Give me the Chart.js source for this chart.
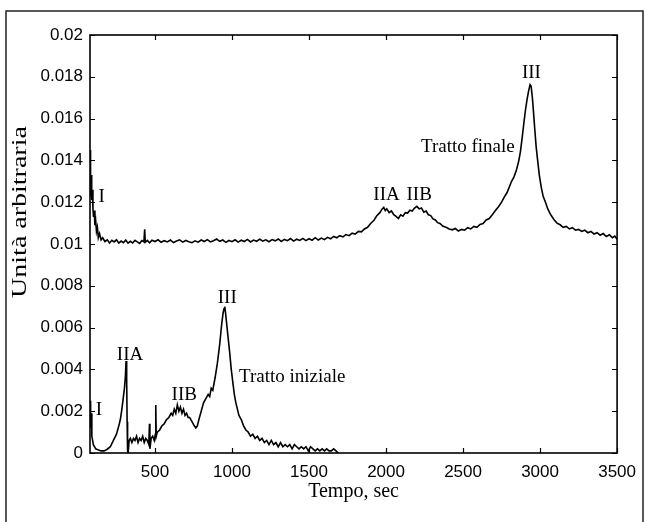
<!DOCTYPE html>
<html><head><meta charset="utf-8">
<script src="https://cdn.jsdelivr.net/npm/chart.js@4/dist/chart.umd.min.js"></script>
<style>html,body{margin:0;padding:0;background:#fff;overflow:hidden}canvas{display:block}</style>
</head><body>
<canvas id="c" width="645" height="522"></canvas>
<script>
// ---- tick labels ----
const xTicks = [500, 1000, 1500, 2000, 2500, 3000, 3500];
const yTicks = [0, 0.002, 0.004, 0.006, 0.008, 0.01, 0.012, 0.014, 0.016, 0.018, 0.02];

// ---- series: "Tratto iniziale" ----
const initTime = [78,82,86,90,100,115,130,150,170,190,210,230,250,265,275,285,295,303,308,312,316,319,322,326,332,340,350,360,370,380,390,400,410,420,430,440,450,460,464,467,475,485,495,502,505,508,515,530,545,560,575,590,605,615,625,635,645,655,665,675,685,695,705,715,725,740,755,765,775,785,800,815,830,845,855,865,875,890,905,920,932,942,948,953,958,965,975,985,995,1005,1015,1025,1035,1045,1060,1075,1090,1105,1120,1135,1150,1165,1180,1195,1210,1225,1240,1255,1270,1285,1300,1315,1330,1345,1360,1375,1390,1405,1420,1435,1450,1465,1480,1495,1510,1525,1540,1555,1570,1585,1600,1615,1630,1645,1660,1675,1690];
const initValue = [0.0025,0.0012,0.0019,0.0008,0.0004,0.0002,0.00015,0.0001,0.0001,0.00018,0.0003,0.0006,0.0009,0.0013,0.0016,0.0021,0.0027,0.0032,0.0037,0.0044,0.0036,0.0015,0.0001,0.0,0.0006,0.0007,0.0005,0.0007,0.0006,0.0008,0.0005,0.0007,0.0006,0.0008,0.0005,0.0007,0.0006,0.0004,0.0014,0.0002,0.0007,0.0008,0.0006,0.0009,0.0023,0.0008,0.0010,0.0011,0.0013,0.0014,0.0016,0.0017,0.0019,0.0018,0.0021,0.0019,0.0023,0.0020,0.0022,0.0019,0.0021,0.0018,0.0019,0.0017,0.0017,0.0015,0.0013,0.0012,0.0013,0.0016,0.0020,0.0024,0.0026,0.0028,0.0027,0.0031,0.0030,0.0036,0.0043,0.0052,0.0061,0.0067,0.0069,0.0070,0.0067,0.0062,0.0055,0.0048,0.0040,0.0034,0.0028,0.0024,0.0021,0.0018,0.0016,0.0013,0.0011,0.0010,0.0008,0.0009,0.0007,0.0008,0.0006,0.0007,0.0005,0.0006,0.0004,0.0006,0.0004,0.0005,0.0003,0.0005,0.0003,0.0004,0.0003,0.0004,0.0002,0.0004,0.0003,0.0002,0.0003,0.0002,0.0003,0.0001,0.0003,0.0002,0.0001,0.0002,0.0001,0.0002,0.0001,0.0002,0.0001,0.0001,0.0002,0.0001,0.0];

// ---- series: "Tratto finale" ----
const finalTime = [78,80,83,86,89,93,97,101,105,110,115,120,126,132,140,150,160,175,190,205,220,235,250,265,280,295,310,325,340,355,370,385,400,415,428,433,437,450,465,480,500,520,540,560,580,600,620,640,660,680,700,720,740,760,780,800,820,840,860,880,900,920,940,960,980,1000,1020,1040,1060,1080,1100,1120,1140,1160,1180,1200,1220,1240,1260,1280,1300,1320,1340,1360,1380,1400,1420,1440,1460,1480,1500,1520,1540,1560,1580,1600,1620,1640,1660,1680,1700,1720,1740,1760,1780,1800,1820,1840,1860,1880,1900,1920,1940,1960,1975,1985,1995,2005,2020,2035,2050,2065,2080,2095,2110,2125,2140,2155,2170,2185,2200,2215,2230,2245,2260,2275,2290,2305,2320,2335,2350,2370,2390,2410,2430,2450,2470,2490,2510,2530,2550,2570,2590,2610,2630,2650,2670,2690,2710,2730,2750,2770,2785,2800,2815,2830,2845,2860,2872,2884,2895,2905,2915,2925,2935,2942,2950,2958,2966,2975,2985,2995,3008,3020,3035,3050,3065,3080,3095,3110,3130,3150,3170,3190,3210,3230,3250,3270,3290,3310,3330,3350,3370,3390,3410,3430,3450,3470,3485,3500];
const finalValue = [0.0123,0.0145,0.0128,0.0133,0.0121,0.0126,0.0117,0.0113,0.0116,0.0109,0.0111,0.0106,0.0108,0.0103,0.0105,0.0102,0.0103,0.01012,0.01020,0.01005,0.01018,0.01010,0.01020,0.01004,0.01014,0.01006,0.01019,0.01004,0.01013,0.01005,0.01018,0.01010,0.01003,0.01016,0.01010,0.01070,0.01008,0.01017,0.01006,0.01018,0.01012,0.01020,0.01008,0.01016,0.01010,0.01019,0.01007,0.01014,0.01020,0.01009,0.01017,0.01011,0.01006,0.01015,0.01009,0.01019,0.01012,0.01021,0.01010,0.01016,0.01024,0.01013,0.01019,0.01008,0.01017,0.01011,0.01020,0.01009,0.01018,0.01012,0.01022,0.01010,0.01019,0.01013,0.01023,0.01014,0.01020,0.01011,0.01021,0.01015,0.01024,0.01012,0.01022,0.01016,0.01026,0.01014,0.01023,0.01017,0.01027,0.01016,0.01025,0.01018,0.01030,0.01019,0.01028,0.01021,0.01032,0.01025,0.01036,0.01030,0.01040,0.01034,0.01045,0.01040,0.01052,0.01047,0.01060,0.01058,0.01072,0.01080,0.01098,0.01112,0.01135,0.01150,0.01168,0.01175,0.01160,0.01168,0.01150,0.01158,0.01140,0.01132,0.01122,0.01140,0.01133,0.01150,0.01148,0.01162,0.01158,0.01172,0.01180,0.01168,0.01172,0.01152,0.01158,0.01140,0.01136,0.01120,0.01115,0.01102,0.01098,0.01085,0.01080,0.01072,0.01068,0.01074,0.01062,0.01070,0.01066,0.01078,0.01072,0.01084,0.01080,0.01094,0.01098,0.01115,0.01122,0.01140,0.01160,0.01178,0.01200,0.01228,0.01245,0.01272,0.01300,0.01320,0.01350,0.01392,0.01440,0.01510,0.01580,0.01640,0.01690,0.01730,0.01762,0.01755,0.01700,0.01625,0.01545,0.01462,0.01395,0.01330,0.01270,0.01228,0.01200,0.01168,0.01145,0.01128,0.01112,0.01100,0.01092,0.01080,0.01084,0.01072,0.01078,0.01066,0.01070,0.01060,0.01066,0.01054,0.01060,0.01048,0.01054,0.01042,0.01050,0.01036,0.01044,0.01030,0.01038,0.01022];

// ---- annotations (text placed at data coordinates) ----
const noteText  = ['I', 'IIA', 'IIB', 'III', 'Tratto iniziale', 'I', 'IIA', 'IIB', 'III', 'Tratto finale'];
const noteTime  = [136, 338, 690, 969, 1391, 154, 2003, 2215, 2944, 2531];
const noteValue = [0.00206, 0.00469, 0.00278, 0.0074, 0.00365, 0.01226, 0.01235, 0.01235, 0.01817, 0.01466];

const xTitle = 'Tempo, sec';
const yTitle = 'Unità arbitraria';

const toPoints = (ts, vs) => ts.map((t, i) => ({x: t, y: vs[i]}));

const deco = {
  id: 'deco',
  beforeDraw(chart) {
    const ctx = chart.ctx;
    ctx.save();
    ctx.fillStyle = '#fff';
    ctx.fillRect(0, 0, chart.width, chart.height);
    ctx.strokeStyle = '#222';
    ctx.lineWidth = 1.5;
    ctx.beginPath();
    ctx.moveTo(6, 530); ctx.lineTo(6, 11); ctx.lineTo(643, 11); ctx.lineTo(643, 530);
    ctx.stroke();
    ctx.restore();
  },
  afterDraw(chart) {
    const {ctx, chartArea: a, scales: {x, y}} = chart;
    ctx.save();
    ctx.strokeStyle = '#000';
    ctx.lineWidth = 1.6;
    ctx.strokeRect(a.left, a.top, a.right - a.left, a.bottom - a.top);
    ctx.lineWidth = 1.2;
    ctx.beginPath();
    yTicks.forEach(v => {
      const py = Math.round(y.getPixelForValue(v)) + 0.5;
      ctx.moveTo(a.left, py); ctx.lineTo(a.left + 5, py);
      ctx.moveTo(a.right, py); ctx.lineTo(a.right - 5, py);
    });
    xTicks.forEach(v => {
      const px = Math.round(x.getPixelForValue(v)) + 0.5;
      ctx.moveTo(px, a.bottom); ctx.lineTo(px, a.bottom - 5);
      ctx.moveTo(px, a.top); ctx.lineTo(px, a.top + 5);
    });
    ctx.stroke();

    ctx.fillStyle = '#000';
    ctx.font = '19px "Liberation Serif"';
    ctx.textAlign = 'center';
    ctx.textBaseline = 'middle';
    noteText.forEach((s, i) => {
      ctx.fillText(s, x.getPixelForValue(noteTime[i]), y.getPixelForValue(noteValue[i]));
    });

    ctx.font = '20px "Liberation Serif"';
    ctx.fillText(xTitle, (a.left + a.right) / 2, 492);
    ctx.translate(21, 212);
    ctx.rotate(-Math.PI / 2);
    ctx.scale(1.4, 1);
    ctx.fillText(yTitle, 0, 0);
    ctx.restore();
  }
};

new Chart(document.getElementById('c'), {
  type: 'line',
  data: {
    datasets: [
      {label: 'Tratto iniziale', data: toPoints(initTime, initValue), borderColor: '#000', borderWidth: 1.6, pointRadius: 0, tension: 0, fill: false},
      {label: 'Tratto finale', data: toPoints(finalTime, finalValue), borderColor: '#000', borderWidth: 1.6, pointRadius: 0, tension: 0, fill: false}
    ]
  },
  options: {
    responsive: false,
    animation: false,
    devicePixelRatio: 1,
    layout: {padding: {top: 35, right: 25, left: 0, bottom: 0}},
    plugins: {legend: {display: false}, tooltip: {enabled: false}},
    scales: {
      x: {
        type: 'linear', min: 78, max: 3500,
        grid: {display: false, drawTicks: false},
        border: {display: false},
        ticks: {color: '#000', font: {family: 'Liberation Sans', size: 17}, padding: 9, maxRotation: 0, autoSkip: false,
                callback: v => String(v)},
        afterBuildTicks: s => { s.ticks = xTicks.map(v => ({value: v})); },
        afterFit: s => { s.height = 69; }
      },
      y: {
        min: 0, max: 0.02,
        grid: {display: false, drawTicks: false},
        border: {display: false},
        ticks: {color: '#000', font: {family: 'Liberation Sans', size: 17}, padding: 7, autoSkip: false,
                callback: v => String(+Number(v).toFixed(4))},
        afterBuildTicks: s => { s.ticks = yTicks.map(v => ({value: v})); },
        afterFit: s => { s.width = 90; }
      }
    }
  },
  plugins: [deco]
});
</script>
</body></html>
